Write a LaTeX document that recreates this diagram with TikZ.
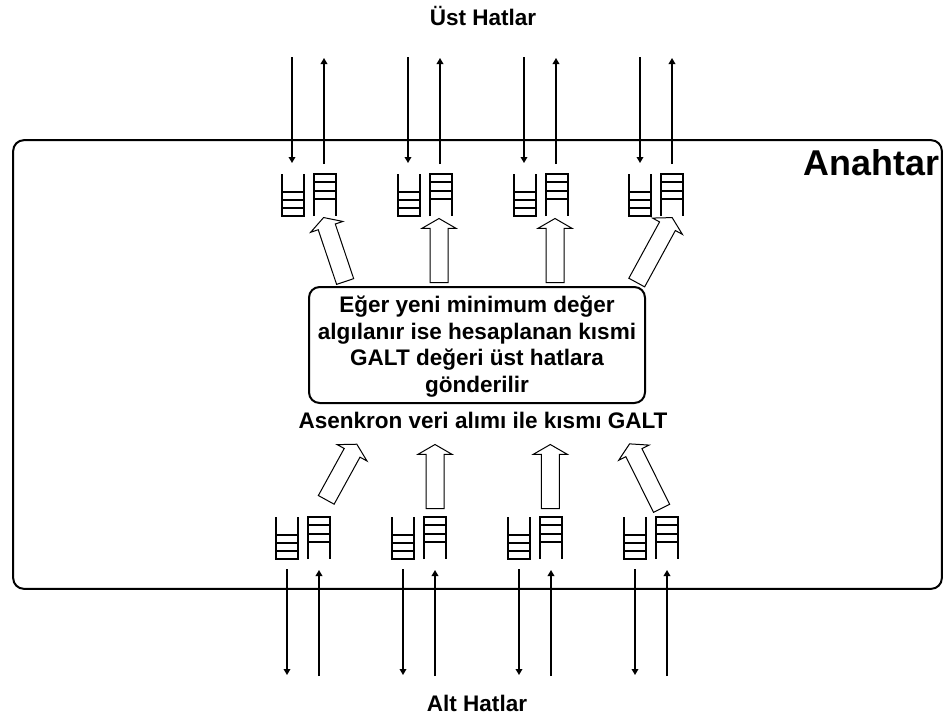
\documentclass[tikz,border=0pt]{standalone}
\usepackage{fontspec}
\setmainfont{Liberation Sans}
\usetikzlibrary{arrows.meta,shapes.arrows}

\begin{document}
\begin{tikzpicture}[x=0.75pt, y=-0.75pt,
    lane/.style={line width=1pt, -{Triangle[length=4.5pt,width=5pt]}},
    queue/.style={line width=1pt},
    blockarrow/.style={single arrow, draw, line width=0.75pt, inner xsep=0pt, inner ysep=6.375pt,
                       single arrow head extend=6pt,
                       single arrow tip angle=120, anchor=tail},
    boxlabel/.style={font=\fontsize{16.9}{20}\selectfont\bfseries, align=center, inner sep=0pt}]
\useasboundingbox (0,0) rectangle (943,721);

\node[boxlabel, anchor=base] (usttitle) at (483, 26) {Üst Hatlar};
\node[boxlabel, anchor=base] (alttitle) at (477, 711) {Alt Hatlar};

\node[draw, line width=1.5pt, rounded corners=8pt, minimum width=696.5pt,
      minimum height=336.5pt, inner sep=0pt] (anahtarbox) at (477.5, 364.5) {};
\node[font=\fontsize{26.9}{30}\selectfont\bfseries, inner sep=0pt, anchor=base east] (anahtar)
    at (939.5, 175) {Anahtar};

\node[draw, line width=1.5pt, rounded corners=8pt, minimum width=252pt,
      minimum height=87pt, inner sep=0pt] (galtbox) at (477, 345) {};
\node[boxlabel] (galttext) at (477, 346.5)
    {Eğer yeni minimum değer\\algılanır ise hesaplanan kısmi\\GALT değeri üst hatlara\\gönderilir};
\node[boxlabel, anchor=base] (asenkron) at (483, 428) {Asenkron veri alımı ile kısmı GALT};

% kuyruklar
\foreach \y/\x in {174/282, 174/398, 174/514, 174/629, 517/276, 517/392, 517/508, 517/624} {
    \draw[queue] (\x,\y) -- (\x,\y+42) -- (\x+22,\y+42) -- (\x+22,\y);
    \foreach \r in {18,26,34} {\draw[queue] (\x,\y+\r) -- (\x+22,\y+\r);}
    \draw[queue] (\x+32,\y+42) -- (\x+32,\y) -- (\x+54,\y) -- (\x+54,\y+42);
    \foreach \r in {8,17,25} {\draw[queue] (\x+32,\y+\r) -- (\x+54,\y+\r);}
}

% ust hatlar
\foreach \i/\x in {0/292, 1/408, 2/524, 3/640} {
    \coordinate (inA\i) at (\x, 57);
    \coordinate (inB\i) at (\x, 163);
    \coordinate (outA\i) at (\x+32, 164);
    \coordinate (outB\i) at (\x+32, 58);
    \draw[lane] (inA\i) -- (inB\i);
    \draw[lane] (outA\i) -- (outB\i);
}
% alt hatlar
\foreach \i/\x in {0/287, 1/403, 2/519, 3/635} {
    \coordinate (dnA\i) at (\x, 569);
    \coordinate (dnB\i) at (\x, 675);
    \coordinate (upA\i) at (\x+32, 676);
    \coordinate (upB\i) at (\x+32, 570);
    \draw[lane] (dnA\i) -- (dnB\i);
    \draw[lane] (upA\i) -- (upB\i);
}

\foreach \n/\x/\y/\len/\ang in {top0/345.3/282/67.5/108.6, top1/439/283/64/90,
                                top2/555/283/64/90, top3/636.5/283/74/61.4,
                                bot0/326/500.3/63.5/61.2, bot1/435/509/64/90,
                                bot2/550.3/509/64/90, bot3/661.8/508.8/72/116.4} {
    \node[blockarrow, minimum height=\len*0.75pt, rotate=\ang] (\n) at (\x,\y) {};
}
\end{tikzpicture}
\end{document}
